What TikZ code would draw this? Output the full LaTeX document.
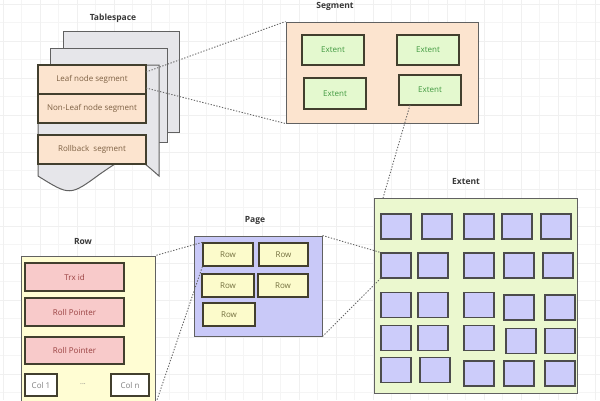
\documentclass[tikz,border=0pt]{standalone}
\usepackage{fontspec}
\setmainfont{Open Sans}
\begin{document}
\begin{tikzpicture}[x=1pt,y=-1pt,
  frame/.style={draw=black!62,line width=1pt},
  inbox/.style={draw=black!70!olive,line width=1.3pt,inner sep=0pt,font=\fontsize{8}{9}\selectfont},
  lbl/.style={font=\bfseries\fontsize{8.5}{10}\selectfont,text=black!78},
  dotline/.style={draw=black!60,line width=0.9pt,dash pattern=on 1.3pt off 1.6pt},
  sq/.style={draw=black!70,line width=1.1pt,fill=sqfill,minimum width=30pt,minimum height=25pt,inner sep=0pt},
  prow/.style={inbox,fill=rowyellow,text=black!35!olive!70!gray,minimum height=23pt},
  ext/.style={inbox,fill=extgreen,text=black!30!green!50!gray,minimum width=62pt,minimum height=30pt},
  seg/.style={inbox,fill=peach,text=black!35!brown!70!gray,minimum width=108pt,minimum height=29pt},
  rp/.style={inbox,fill=pinkfill,text=black!30!red!50!gray,minimum width=99pt,minimum height=28pt},
  colb/.style={inbox,fill=white,text=black!50,minimum height=22pt}]
\definecolor{peach}{HTML}{FCE4CF}
\definecolor{pagegray}{HTML}{E6E6EA}
\definecolor{extgreen}{HTML}{E4F9CF}
\definecolor{biggreen}{HTML}{EBF8CF}
\definecolor{sqfill}{HTML}{CCCCFA}
\definecolor{lav}{HTML}{C9C9F8}
\definecolor{rowyellow}{HTML}{FCFBCB}
\definecolor{rowbig}{HTML}{FFFDD3}
\definecolor{pinkfill}{HTML}{F8CACA}
\clip (0,0) rectangle (600,400);
\useasboundingbox (0,0) rectangle (600,400);
\fill[white] (0,0) rectangle (600,400);
% grid
\foreach \i in {0,...,33} {\draw[black!4,line width=0.5pt] (3+18.5*\i,0) -- (3+18.5*\i,400);}
\foreach \i in {0,...,22} {\draw[black!4,line width=0.5pt] (0,4+18.5*\i) -- (600,4+18.5*\i);}
\foreach \i in {0,...,16} {\draw[black!6,line width=0.6pt] (3+37*\i,0) -- (3+37*\i,400);}
\foreach \i in {0,...,11} {\draw[black!6,line width=0.6pt] (0,4+37*\i) -- (600,4+37*\i);}

% Tablespace
\node[lbl] (tslbl) at (113,18) {Tablespace};
\filldraw[frame,fill=pagegray] (63,31) rectangle (179,132);
\filldraw[frame,fill=pagegray] (50,48) rectangle (167,142);
\filldraw[frame,fill=pagegray] (38,65) -- (159,65) -- (159,176)
  .. controls (132,152) .. (100,174) .. controls (70,196) .. (38,176) -- cycle;
\node[seg] (leaf) at (92,79.5) {Leaf node segment};
\node[seg] (nonleaf) at (92,108.5) {Non-Leaf node segment};
\node[seg] (rollback) at (92,149.5) {Rollback\ \ segment};

% Segment
\node[lbl] (seglbl) at (335,6) {Segment};
\node[frame,fill=peach,minimum width=192pt,minimum height=101pt,inner sep=0pt] (segment) at (382,72.5) {};
\node[ext] (e1) at (333,50) {Extent};
\node[ext] (e2) at (428,50) {Extent};
\node[ext,minimum height=31pt] (e3) at (335,93.5) {Extent};
\node[ext] (e4) at (430,90) {Extent};

% Extent big
\node[lbl] (extlbl) at (466,182) {Extent};
\node[frame,fill=biggreen,minimum width=203pt,minimum height=195pt,inner sep=0pt] (extent) at (475.5,295.5) {};
\foreach \n/\cx/\cy in {
  a1/396/226.5, a2/437/226.5, a3/479/226.5, a4/517/226.5, a5/556/226.5,
  b1/396/265.5, b2/433/265.5, b3/479/265.5, b4/519/265.5, b5/558/265.5,
  c1/396/305, c2/433/305, c3/479/305, c4/519/307.5, c5/560/307.5,
  d1/396/338, d2/433/338, d3/479/338, d4/521/341, d5/560/341,
  f1/396/370, f2/435/370, f3/479/373.5, f4/519/373.5, f5/560/373.5} {
  \node[sq] (\n) at (\cx,\cy) {};
}

% Page
\node[lbl] (pagelbl) at (255,220) {Page};
\node[frame,fill=lav,minimum width=128pt,minimum height=100pt,inner sep=0pt] (page) at (258,286) {};
\node[prow,minimum width=50pt] (r1) at (228,254.5) {Row};
\node[prow,minimum width=49pt] (r2) at (283.5,254.5) {Row};
\node[prow,minimum width=52pt] (r3) at (228,285.5) {Row};
\node[prow,minimum width=50pt] (r4) at (283,285.5) {Row};
\node[prow,minimum width=52pt] (r5) at (229,314.5) {Row};

% Row
\node[lbl] (rowlbl) at (83,242) {Row};
\node[frame,fill=rowbig,minimum width=134pt,minimum height=150pt,inner sep=0pt] (row) at (88,331) {};
\node[rp] (trx) at (74.5,277) {Trx id};
\node[rp] (rp1) at (74.5,312) {Roll Pointer};
\node[rp,minimum height=27pt] (rp2) at (74.5,350.5) {Roll Pointer};
\node[colb,minimum width=32pt] (col1) at (41,385) {Col 1};
\node[colb,minimum width=38pt] (coln) at (130,385) {Col n};
\node[font=\fontsize{7}{8}\selectfont,text=black!50] (dots) at (83,384) {...};

% connectors
\coordinate (leafa) at (146,72);
\coordinate (leafb) at (146,88);
\coordinate (e4b) at (410,105);
\coordinate (extt) at (383,198);
\coordinate (rowbr) at (157,400);
\draw[dotline] (leafa) -- (segment.north west);
\draw[dotline] (leafb) -- (segment.south west);
\draw[dotline] (e4b) -- (extt);
\draw[dotline] (page.north east) -- (b1.north west);
\draw[dotline] (page.south east) -- (b1.south west);
\draw[dotline] (r1.north west) -- (row.north east);
\draw[dotline] (r1.south west) -- (rowbr);
\end{tikzpicture}
\end{document}
